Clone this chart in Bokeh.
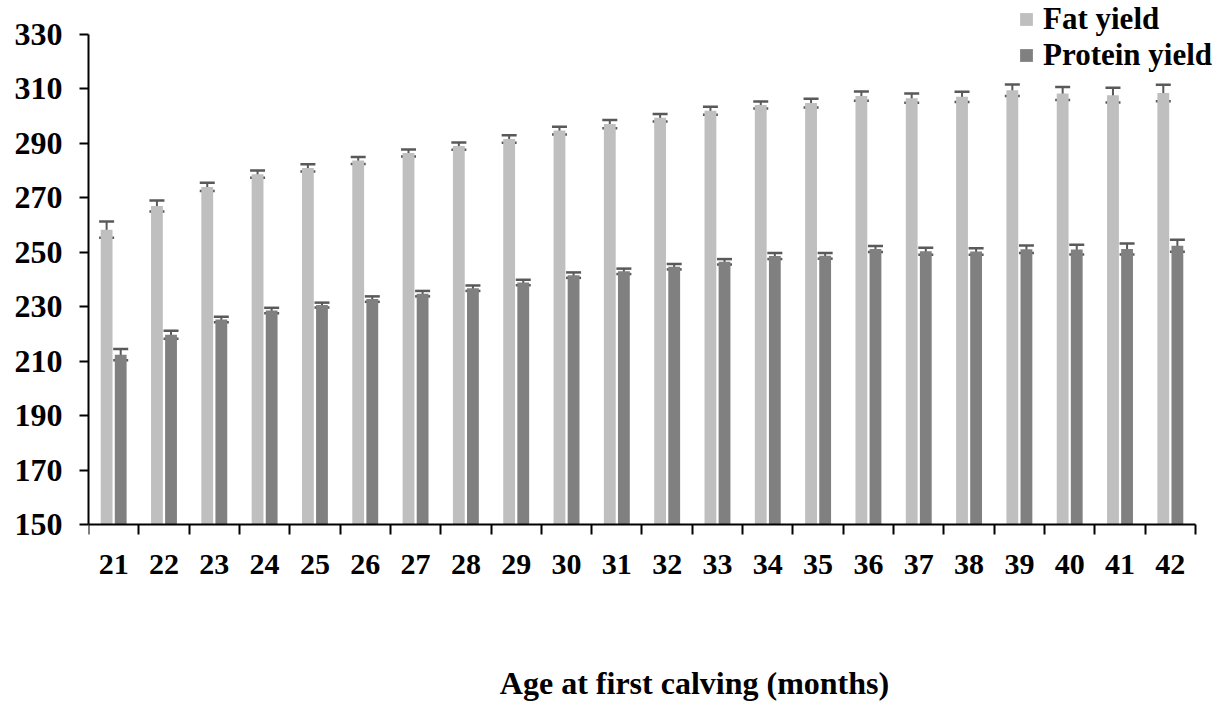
from bokeh.plotting import figure
from bokeh.models import ColumnDataSource, Whisker, TeeHead, Legend, LegendItem, FixedTicker, Label
from bokeh.transform import dodge
from bokeh.embed import file_html
from bokeh.resources import INLINE

# ---- data ----
ages = list(range(21, 43))
fat_yield = [258.3, 267.0, 274.0, 278.7, 281.0, 283.7, 286.5, 289.0, 291.6, 294.7, 297.1,
             299.4, 302.0, 304.1, 304.8, 307.4, 306.6, 307.1, 309.5, 308.3, 307.7, 308.5]
fat_se = [3.0, 2.0, 1.5, 1.3, 1.3, 1.3, 1.3, 1.3, 1.4, 1.4, 1.5,
          1.4, 1.5, 1.3, 1.6, 1.7, 1.7, 1.9, 2.1, 2.4, 2.7, 3.0]
protein_yield = [212.4, 219.7, 225.3, 228.6, 230.6, 232.8, 234.8, 236.8, 238.9, 241.6, 243.0,
                 244.7, 246.5, 248.6, 248.7, 251.2, 250.4, 250.3, 251.1, 251.0, 251.2, 252.4]
protein_se = [2.1, 1.5, 1.0, 1.0, 0.9, 1.0, 1.0, 1.0, 1.0, 1.0, 1.0,
              1.0, 1.0, 1.1, 1.05, 1.1, 1.3, 1.2, 1.4, 1.8, 2.0, 2.2]
y_ticks = [150, 170, 190, 210, 230, 250, 270, 290, 310, 330]
series_labels = ["Fat yield", "Protein yield"]
x_title = "Age at first calving (months)"

FONT = "Liberation Serif"
FAT_COLOR = "#BFBFBF"
PROT_COLOR = "#808080"
ERR_COLOR = "#595959"

src = ColumnDataSource(dict(
    age=ages,
    fat=fat_yield,
    fat_up=[v + e for v, e in zip(fat_yield, fat_se)],
    fat_lo=[v - e for v, e in zip(fat_yield, fat_se)],
    prot=protein_yield,
    prot_up=[v + e for v, e in zip(protein_yield, protein_se)],
    prot_lo=[v - e for v, e in zip(protein_yield, protein_se)],
))

# The frame fills the canvas right of the y axis so that the legend (top right)
# and the axis title (bottom) can be placed freely; axis bounds keep the drawn
# axes on the data extent.
W, H = 1232, 702
LEFT = 88                  # frame left edge (px)
PX_X = 50.318              # px per category
PX_Y = 490 / 180           # px per yield unit
Y_TOP_PX, Y_BOT_PX = 34, 524  # where 330 and 150 sit (px from top)

x_lo, x_hi = ages[0] - 0.5, ages[-1] + 0.5
x_end = x_hi + (W - LEFT - 22 * PX_X) / PX_X
y_end = y_ticks[-1] + Y_TOP_PX / PX_Y
y_start = y_ticks[0] - (H - Y_BOT_PX) / PX_Y

p = figure(width=W, height=H, output_backend="svg", toolbar_location=None,
           x_range=(x_lo, x_end), y_range=(y_start, y_end),
           min_border_left=LEFT, min_border_right=0, min_border_top=0, min_border_bottom=0)
p.outline_line_color = None
p.xgrid.grid_line_color = None
p.ygrid.grid_line_color = None
p.background_fill_color = "white"
p.border_fill_color = "white"

OFF = 0.14
BW = 0.235
r_fat = p.vbar(x=dodge("age", -OFF, range=p.x_range), top="fat", bottom=y_ticks[0], width=BW,
               source=src, fill_color=FAT_COLOR, line_color=None)
r_prot = p.vbar(x=dodge("age", OFF, range=p.x_range), top="prot", bottom=y_ticks[0], width=BW,
                source=src, fill_color=PROT_COLOR, line_color=None)

for xoff, up, lo in [(-OFF, "fat_up", "fat_lo"), (OFF, "prot_up", "prot_lo")]:
    w = Whisker(source=src, base=dodge("age", xoff, range=p.x_range), upper=up, lower=lo,
                line_color=ERR_COLOR, line_width=2,
                upper_head=TeeHead(size=15, line_color=ERR_COLOR, line_width=2.5),
                lower_head=TeeHead(size=15, line_color=ERR_COLOR, line_width=2.5))
    p.add_layout(w)

# x axis: drawn at y = 150, ticks between the categories
xa = p.xaxis[0]
xa.fixed_location = y_ticks[0]
xa.bounds = (x_lo, x_hi)
xa.ticker = FixedTicker(ticks=ages, minor_ticks=[a - 0.5 for a in ages] + [x_hi])
xa.major_tick_out = 0
xa.major_tick_in = 0
xa.minor_tick_out = 10
xa.minor_tick_in = 0
xa.minor_tick_line_color = "black"
xa.minor_tick_line_width = 2
xa.axis_line_color = "black"
xa.axis_line_width = 2
xa.major_label_text_font = FONT
xa.major_label_text_font_style = "bold"
xa.major_label_text_font_size = "30px"
xa.major_label_text_color = "black"
xa.major_label_standoff = 20

ya = p.yaxis[0]
ya.bounds = (y_ticks[0], y_ticks[-1])
ya.ticker = FixedTicker(ticks=y_ticks, minor_ticks=[])
ya.major_tick_out = 9
ya.major_tick_in = 0
ya.major_tick_line_width = 2
ya.major_tick_line_color = "black"
ya.axis_line_color = "black"
ya.axis_line_width = 2
ya.major_label_text_font = FONT
ya.major_label_text_font_style = "bold"
ya.major_label_text_font_size = "32px"
ya.major_label_text_color = "black"
ya.major_label_standoff = 17

# axis title, offset to the right as in the reference
p.add_layout(Label(x=606, y=20, x_units="screen", y_units="screen", text=x_title,
                   text_align="center", text_baseline="alphabetic",
                   text_font=FONT, text_font_style="bold", text_font_size="32px",
                   text_color="black"))

legend = Legend(items=[LegendItem(label=series_labels[0], renderers=[r_fat]),
                       LegendItem(label=series_labels[1], renderers=[r_prot])],
                location=(930, 629), orientation="vertical",
                label_text_font=FONT, label_text_font_style="bold", label_text_font_size="31px",
                label_text_color="black", glyph_width=16, glyph_height=16, label_standoff=9,
                label_height=30, spacing=0, padding=0, margin=0,
                background_fill_alpha=0, border_line_color=None)
p.add_layout(legend, "center")

open("out.html", "w").write(file_html(p, INLINE))
